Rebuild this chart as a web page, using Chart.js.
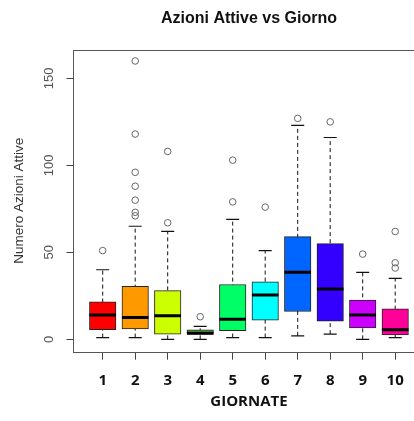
<!DOCTYPE html>
<html>
<head>
<meta charset="utf-8">
<title>Azioni Attive vs Giorno</title>
<script src="https://cdn.jsdelivr.net/npm/chart.js@4.4.1/dist/chart.umd.min.js"></script>
<style>
  html, body { margin: 0; padding: 0; background: #fff; overflow: hidden; }
  #wrap { width: 414px; height: 421px; overflow: hidden; }
  #chart { display: block; }
</style>
</head>
<body>
<div id="wrap"><canvas id="chart" width="497" height="421"></canvas></div>
<script>
// giornate 1..10
var days = [1, 2, 3, 4, 5, 6, 7, 8, 9, 10];
var yTicks = [0, 50, 100, 150];

// box statistics
var whiskerLow  = [1, 1, 0, 0, 1, 1, 2, 3, 0, 1];
var lowerQ      = [5.5, 6, 3, 3, 5, 11, 16, 10.5, 6.5, 2.5];
var medians     = [14, 12.5, 13.5, 3.5, 11.5, 25.5, 38.5, 29, 14, 5.5];
var upperQ      = [21.5, 30.5, 28, 5.5, 31.5, 33, 59, 55, 22.5, 17.5];
var whiskerHigh = [40, 65, 62, 7.5, 69, 51, 123, 116, 38.5, 35];
var outliers = [
    [51],
    [160, 118, 96, 88, 80, 73, 71],
    [108, 67],
    [13],
    [103, 79],
    [76],
    [127],
    [125],
    [49],
    [62, 44, 41]
];
var boxColors = ['#FF0000', '#FF9900', '#CCFF00', '#5AA84A', '#00FF66',
                 '#00FFFF', '#0066FF', '#3300FF', '#CC00FF', '#FF0099'];

(function () {
    var boxes = days.map(function (d, i) { return { x: d, y: [lowerQ[i], upperQ[i]] }; });
    var mids = days.map(function (d, i) { return { x: d, y: medians[i] }; });
    var caps = [];
    var whiskers = [];
    days.forEach(function (d, i) {
        caps.push({ x: d, y: whiskerLow[i] }, { x: d, y: whiskerHigh[i] });
        whiskers.push({ x: d, y: whiskerLow[i] }, { x: d, y: whiskerHigh[i] }, { x: d, y: null });
    });
    var outs = [];
    days.forEach(function (d, i) {
        outliers[i].forEach(function (v) { outs.push({ x: d, y: v }); });
    });

    var frame = {
        id: 'frame',
        afterDraw: function (chart) {
            var a = chart.chartArea, ctx = chart.ctx;
            ctx.save();
            ctx.strokeStyle = '#555';
            ctx.lineWidth = 1;
            ctx.strokeRect(Math.round(a.left) + 0.5, Math.round(a.top) + 0.5,
                Math.round(a.right - a.left), Math.round(a.bottom - a.top));
            ctx.restore();
        }
    };

    new Chart(document.getElementById('chart'), {
        type: 'bar',
        data: {
            datasets: [
                {
                    type: 'scatter', data: whiskers, showLine: true, spanGaps: false,
                    borderColor: '#111', borderWidth: 1, borderDash: [4, 3],
                    pointRadius: 0, order: 4
                },
                {
                    type: 'bar', data: boxes, backgroundColor: boxColors,
                    borderColor: '#222', borderWidth: 1, borderSkipped: false,
                    barThickness: 26.5, order: 3
                },
                {
                    type: 'scatter', data: mids, pointStyle: 'line', pointRadius: 13.25,
                    borderColor: '#000', pointBorderColor: '#000', pointBorderWidth: 3, order: 2
                },
                {
                    type: 'scatter', data: caps, pointStyle: 'line', pointRadius: 6.5,
                    borderColor: '#111', pointBorderColor: '#111', pointBorderWidth: 1.2, order: 2
                },
                {
                    type: 'scatter', data: outs, pointStyle: 'circle', pointRadius: 3.3,
                    backgroundColor: 'rgba(0,0,0,0)', pointBackgroundColor: 'rgba(0,0,0,0)',
                    borderColor: '#666', pointBorderColor: '#666', pointBorderWidth: 1, order: 1
                }
            ]
        },
        options: {
            responsive: false,
            animation: false,
            devicePixelRatio: 1,
            layout: { padding: { left: 0, right: 72.55, top: 0, bottom: 0 } },
            plugins: {
                legend: { display: false },
                tooltip: { enabled: false },
                title: {
                    display: true, fullSize: false,
                    text: 'Azioni Attive vs Giorno',
                    color: '#111',
                    font: { family: 'Liberation Sans', size: 16, weight: 'bold' },
                    padding: { top: 9.4, bottom: 21.4 }
                }
            },
            scales: {
                x: {
                    type: 'linear', min: 0.1, max: 10.9, offset: false,
                    afterBuildTicks: function (s) { s.ticks = days.map(function (v) { return { value: v }; }); },
                    afterFit: function (s) { s.height = 69.3; },
                    grid: { drawOnChartArea: false, drawTicks: true, tickLength: 8, color: '#444', offset: false },
                    border: { display: false },
                    ticks: {
                        autoSkip: false, maxRotation: 0, padding: 12, color: '#111',
                        font: { family: 'Open Sans', size: 15, weight: 'bold' },
                        callback: function (v) { return String(v); }
                    },
                    title: {
                        display: true, text: 'GIORNATE', color: '#111',
                        font: { family: 'Open Sans', size: 15, weight: 'bold' },
                        padding: { top: 0, bottom: 10 }
                    }
                },
                y: {
                    type: 'linear', min: -7.1, max: 166.3,
                    afterBuildTicks: function (s) { s.ticks = yTicks.map(function (v) { return { value: v }; }); },
                    afterFit: function (s) { s.width = 73.45; },
                    grid: { drawOnChartArea: false, drawTicks: true, tickLength: 7, color: '#444' },
                    border: { display: false },
                    ticks: {
                        minRotation: 90, maxRotation: 90, crossAlign: 'center', padding: 6,
                        color: '#555', font: { family: 'Liberation Sans', size: 13 }
                    },
                    title: {
                        display: true, text: 'Numero Azioni Attive', color: '#333',
                        font: { family: 'Liberation Sans', size: 13.5 },
                        padding: { top: 11, bottom: 0 }
                    }
                }
            }
        },
        plugins: [frame]
    });
})();
</script>
</body>
</html>
